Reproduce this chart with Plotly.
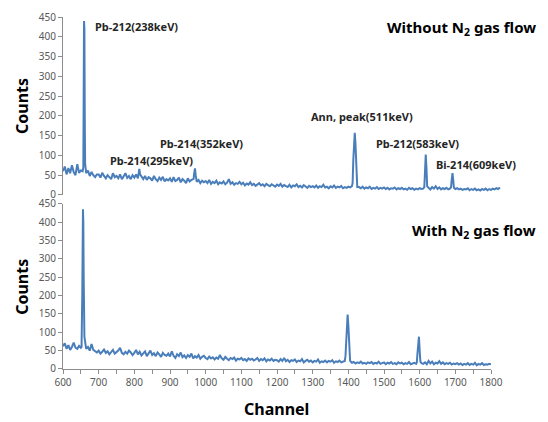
import plotly.graph_objects as go

# ---------------- data ----------------
# Bottom spectrum (with N2 gas flow): baseline every 5 channels 600..1800
with_base = [
    62, 70, 55, 65, 52, 60, 72, 58, 55, 63,
    58, 62, 88, 55, 60, 50, 68, 52, 48, 45,
    50, 42, 47, 53, 44, 48, 40, 46, 52, 42,
    45, 50, 58, 44, 40, 47, 42, 50, 45, 38,
    44, 52, 40, 47, 37, 43, 48, 35, 41, 50,
    38, 43, 35, 45, 40, 33, 44, 38, 36, 42,
    34, 48, 36, 30, 40, 35, 45, 32, 37, 30,
    38, 33, 42, 29, 35, 31, 38, 28, 33, 36,
    30, 27, 34, 29, 32, 26, 31, 28, 38, 29,
    25, 33, 28, 24, 30, 27, 31, 23, 28, 26,
    30, 24, 27, 22, 29, 25, 28, 23, 26, 30,
    22, 27, 24, 29, 21, 26, 23, 28, 22, 25,
    24, 20, 27, 22, 30, 21, 25, 19, 24, 22,
    26, 19, 23, 21, 27, 18, 22, 25, 20, 23,
    18, 22, 20, 26, 17, 21, 19, 23, 18, 22,
    20, 24, 17, 21, 19, 23, 18, 20, 22, 20,
    20, 22, 17, 19, 15, 18, 16, 20, 15, 17,
    14, 18, 16, 19, 14, 17, 15, 20, 14, 16,
    18, 13, 17, 15, 19, 14, 16, 13, 18, 15,
    17, 13, 16, 14, 19, 13, 15, 17, 14, 15,
    15, 16, 14, 18, 13, 22, 15, 20, 13, 17,
    15, 21, 14, 18, 13, 16, 14, 17, 12, 15,
    13, 16, 12, 15, 11, 14, 12, 16, 11, 14,
    12, 17, 10, 14, 12, 16, 11, 13, 12, 14,
    13,
]
with_peak_ch = [[652, 654, 655, 656, 657, 658, 659],
                [1392, 1394, 1396, 1398, 1400, 1402, 1404],
                [1592, 1594, 1596, 1598, 1600, 1602]]
with_peak_ct = [[60, 200, 380, 435, 400, 250, 90],
                [35, 80, 135, 148, 120, 60, 28],
                [18, 45, 85, 88, 50, 20]]

# Top spectrum (without N2 gas flow): baseline every 5 channels 600..1825
without_base = [
    60, 72, 52, 68, 55, 75, 58, 50, 78, 56,
    62, 60, 85, 55, 62, 48, 58, 50, 45, 52,
    52, 44, 56, 48, 42, 50, 46, 40, 55, 45,
    48, 42, 52, 40, 47, 55, 43, 48, 40, 50,
    44, 52, 42, 45, 45, 40, 48, 38, 45, 42,
    36, 48, 40, 35, 44, 38, 46, 34, 40, 37,
    42, 33, 45, 35, 38, 44, 32, 40, 36, 30,
    42, 34, 38, 40, 38, 33, 38, 30, 36, 32,
    35, 30, 38, 28, 33, 30, 36, 27, 32, 29,
    34, 27, 31, 40, 28, 32, 26, 30, 28, 33,
    27, 31, 24, 29, 26, 32, 25, 28, 23, 27,
    30, 24, 27, 22, 28, 25, 22, 27, 24, 21,
    26, 23, 28, 21, 25, 22, 20, 26, 19, 24,
    22, 27, 20, 23, 19, 25, 21, 18, 23, 20,
    22, 19, 24, 18, 22, 20, 26, 19, 21, 17,
    22, 19, 24, 18, 21, 19, 23, 17, 20, 18,
    21, 19, 22, 20, 20, 20, 20, 17, 21, 16,
    19, 17, 21, 15, 18, 16, 20, 15, 18, 16,
    19, 15, 18, 14, 17, 16, 19, 14, 17, 15,
    18, 14, 16, 13, 18, 15, 17, 13, 16, 14,
    17, 15, 16, 16, 16, 18, 14, 20, 16, 22,
    15, 19, 14, 17, 15, 18, 14, 16, 16, 16,
    15, 17, 14, 16, 13, 15, 14, 17, 12, 15,
    13, 16, 12, 14, 11, 15, 13, 16, 12, 15,
    13, 16, 14, 17, 15, 19,
]
without_peak_ch = [[657, 658, 659, 660, 661, 662],
                   [812, 814, 816],
                   [966, 968, 970, 972, 974],
                   [1412, 1414, 1416, 1418, 1420, 1422, 1424],
                   [1613, 1615, 1617, 1619, 1621],
                   [1688, 1690, 1692, 1694, 1696]]
without_peak_ct = [[70, 250, 440, 420, 200, 80],
                   [50, 66, 52],
                   [40, 55, 67, 50, 35],
                   [30, 90, 150, 157, 130, 60, 25],
                   [20, 60, 102, 70, 22],
                   [20, 40, 55, 38, 18]]

peak_labels = ["Pb-212(238keV)", "Pb-214(295keV)", "Pb-214(352keV)",
               "Ann, peak(511keV)", "Pb-212(583keV)", "Bi-214(609keV)"]
x_ticks = [600, 700, 800, 900, 1000, 1100, 1200, 1300, 1400, 1500, 1600, 1700, 1800]


def merge(base, start, step, peak_ch, peak_ct):
    ch = [start + i * step for i in range(len(base))]
    pts = {}
    for c, v in zip(ch, base):
        pts[c] = v
    for pc, pv in zip(peak_ch, peak_ct):
        lo, hi = min(pc), max(pc)
        for c in list(pts):
            if lo <= c <= hi:
                del pts[c]
        for c, v in zip(pc, pv):
            pts[c] = v
    keys = sorted(pts)
    return keys, [pts[k] for k in keys]


wx, wy = merge(with_base, 600, 5, with_peak_ch, with_peak_ct)
ox, oy = merge(without_base, 600, 5, without_peak_ch, without_peak_ct)

LINE = "#4a7ebb"
AX = "#8c8c8c"
TXT = "#595959"
FONT = "Noto Sans"

fig = go.Figure()
fig.add_trace(go.Scatter(x=ox, y=oy, mode="lines", line=dict(color=LINE, width=2),
                         xaxis="x", yaxis="y", showlegend=False, hoverinfo="skip"))
fig.add_trace(go.Scatter(x=wx, y=wy, mode="lines", line=dict(color=LINE, width=2),
                         xaxis="x2", yaxis="y2", showlegend=False, hoverinfo="skip"))

W, H = 548, 422
ml, mr, mt, mb = 63, 46, 9, 53
pw = W - ml - mr
ph = H - mt - mb

def px(x):
    return (x - ml) / pw

def py(y):
    return (H - mb - y) / ph

yax = dict(range=[0, 450], dtick=50, showgrid=False, zeroline=False, showline=True,
           linecolor=AX, linewidth=1, ticks="outside", ticklen=4, tickcolor=AX,
           tickfont=dict(family=FONT, size=10, color=TXT))

fig.update_layout(
    width=W, height=H, margin=dict(l=ml, r=mr, t=mt, b=mb),
    paper_bgcolor="white", plot_bgcolor="white",
    xaxis=dict(domain=[0, 1], range=[600, 600 + (pw / ((491 - 63) / 1200))],
               showgrid=False, zeroline=False, showline=False, showticklabels=False,
               ticks=""),
    yaxis=dict(domain=[py(191), 1], anchor="x", **yax),
    xaxis2=dict(domain=[0, (491 - 63) / pw], range=[600, 1800], anchor="y2",
                tickvals=x_ticks, showgrid=False, zeroline=False, showline=True,
                linecolor=AX, linewidth=1, ticks="outside", ticklen=4, tickcolor=AX,
                minor=dict(dtick=50, ticks="outside", ticklen=4, tickcolor=AX),
                tickfont=dict(family=FONT, size=10, color=TXT)),
    yaxis2=dict(domain=[0, py(200)], anchor="x2", **yax),
)

ann = []
title_font = dict(family=FONT, size=16, color="black")
ann.append(dict(text="<b>Counts</b>", x=px(22), y=py(100), textangle=-90, font=title_font))
ann.append(dict(text="<b>Counts</b>", x=px(22), y=py(285), textangle=-90, font=title_font))
ann.append(dict(text="<b>Channel</b>", x=px(276), y=py(410), font=title_font))

lab_pos = [(93, 19), (108, 156), (158, 138), (309, 111), (374, 138), (434, 160)]
for t, (lx, ly) in zip(peak_labels, lab_pos):
    ann.append(dict(text="<b>" + t + "</b>", x=px(lx), y=py(ly), xanchor="left",
                    font=dict(family=FONT, size=11, color="#262626")))

big = dict(family=FONT, size=15, color="black")
ann.append(dict(text="<b>Without N<sub>2</sub> gas flow</b>", x=px(538), y=py(20),
                xanchor="right", font=big))
ann.append(dict(text="<b>With N<sub>2</sub> gas flow</b>", x=px(538), y=py(228),
                xanchor="right", font=big))

for a in ann:
    a.update(xref="paper", yref="paper", showarrow=False)
    a.setdefault("xanchor", "center")
    a.setdefault("yanchor", "middle")
fig.update_layout(annotations=ann)

fig.write_html("out.html")
